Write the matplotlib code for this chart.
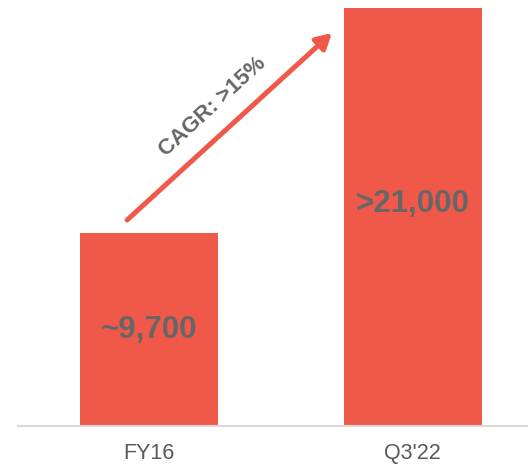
import matplotlib
matplotlib.use("Agg")
import matplotlib.pyplot as plt

categories = ["FY16", "Q3'22"]
values = [9700, 21000]
value_labels = ["~9,700", ">21,000"]
cagr_label = "CAGR: >15%"

bar_color = "#F0594A"
text_gray = "#666666"

plt.rcParams['font.family'] = ['Liberation Sans', 'DejaVu Sans']

fig = plt.figure(figsize=(5.28, 4.67), dpi=100)
ax = fig.add_axes([18/528, 41/467, 510/528, 426/467])

x = list(range(len(categories)))
ax.bar(x, values, width=0.524, color=bar_color, zorder=2)

ax.set_xlim(-0.497, 1.438)
ax.set_ylim(0, 21402)

for s in ["top", "right", "left"]:
    ax.spines[s].set_visible(False)
ax.spines["bottom"].set_color("#D9D9D9")
ax.spines["bottom"].set_linewidth(1.5)
ax.set_yticks([])
ax.set_xticks(x)
ax.set_xticklabels(categories, fontsize=15.5, color="#595959")
ax.tick_params(axis="x", length=0, pad=12)

label_y = [4800, 11150]
for xi, lab, ly in zip(x, value_labels, label_y):
    ax.text(xi, ly, lab, ha="center", va="center", fontsize=22.5,
            fontweight="bold", color=text_gray)

ax.annotate("", xy=(0.694, 19744), xytext=(-0.083, 10349),
            arrowprops=dict(arrowstyle="-|>,head_length=0.9,head_width=0.5",
                            color=bar_color, lw=3.6, shrinkA=0, shrinkB=0))
ax.text(0.243, 16026, cagr_label, rotation=42.5, ha="center", va="center",
        fontsize=16, fontweight="bold", color=text_gray, rotation_mode="anchor")

fig.savefig("out.png", dpi=100)
